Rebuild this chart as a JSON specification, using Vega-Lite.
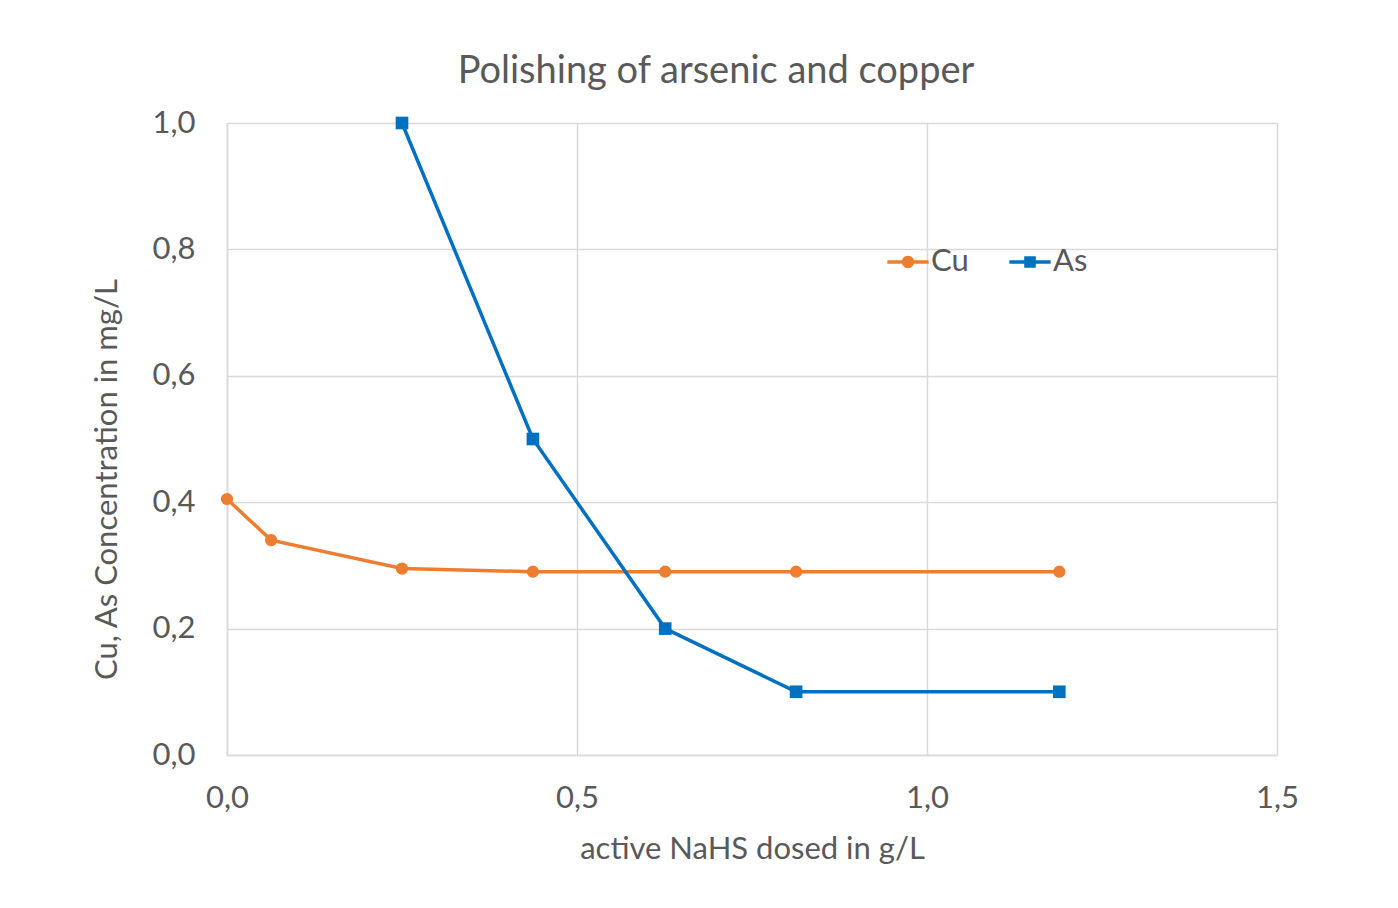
{
  "$schema": "https://vega.github.io/schema/vega-lite/v6.json",
  "autosize": "none",
  "width": 1050,
  "height": 632,
  "padding": {"left": 227, "top": 123, "right": 121, "bottom": 153},
  "background": "white",
  "config": {
    "locale": {"number": {"decimal": ",", "thousands": ".", "grouping": [3], "currency": ["", " €"]}},
    "font": "Lato",
    "view": {"stroke": null},
    "axis": {
      "labelFont": "Lato", "titleFont": "Lato",
      "labelColor": "#595959", "titleColor": "#595959",
      "labelFontSize": 31, "titleFontSize": 31, "labelFontWeight": "normal", "titleFontWeight": "normal",
      "gridColor": "#d9d9d9", "gridWidth": 1.5, "domainColor": "#d9d9d9", "domainWidth": 1.5, "ticks": false
    }
  },
  "title": {
    "text": "Polishing of arsenic and copper",
    "font": "Lato", "fontSize": 38, "fontWeight": "normal", "color": "#595959",
    "anchor": "middle", "frame": "group", "dx": -36, "offset": 16
  },
  "data": {
    "values": [
      {"dose": 0.0, "conc": 0.405, "metal": "Cu"},
      {"dose": 0.063, "conc": 0.34, "metal": "Cu"},
      {"dose": 0.25, "conc": 0.295, "metal": "Cu"},
      {"dose": 0.437, "conc": 0.29, "metal": "Cu"},
      {"dose": 0.626, "conc": 0.29, "metal": "Cu"},
      {"dose": 0.813, "conc": 0.29, "metal": "Cu"},
      {"dose": 1.189, "conc": 0.29, "metal": "Cu"},
      {"dose": 0.25, "conc": 1.0, "metal": "As"},
      {"dose": 0.437, "conc": 0.5, "metal": "As"},
      {"dose": 0.626, "conc": 0.2, "metal": "As"},
      {"dose": 0.813, "conc": 0.1, "metal": "As"},
      {"dose": 1.189, "conc": 0.1, "metal": "As"}
    ]
  },
  "encoding": {
    "x": {
      "field": "dose", "type": "quantitative",
      "scale": {"domain": [0, 1.5], "nice": false, "zero": false},
      "axis": {"values": [0, 0.5, 1.0, 1.5], "format": ".1f", "title": "active NaHS dosed in g/L", "labelPadding": 28, "titlePadding": 21, "labelFlush": false, "domain": true}
    },
    "y": {
      "field": "conc", "type": "quantitative",
      "scale": {"domain": [0, 1.0], "nice": false},
      "axis": {"values": [0, 0.2, 0.4, 0.6, 0.8, 1.0], "format": ".1f", "title": "Cu, As Concentration in mg/L", "labelPadding": 32, "labelFlush": false, "titleX": -120, "titleY": 356, "titleAlign": "center", "titleBaseline": "middle", "titleAngle": -90}
    },
    "color": {
      "field": "metal", "type": "nominal",
      "scale": {"domain": ["Cu", "As"], "range": ["#ED7D31", "#0070C0"]},
      "legend": {
        "title": null, "orient": "none", "legendX": 660, "legendY": 118, "direction": "horizontal",
        "labelFont": "Lato", "labelFontSize": 31, "labelColor": "#595959",
        "symbolSize": 1700, "columnPadding": 40, "labelOffset": 2, "symbolStrokeWidth": 0,
        "encode": {
          "symbols": {
            "update": {
              "shape": {"signal": "datum.value === 'Cu' ? 'M-1,-0.08H1V0.08H-1Z M0.3,0A0.3,0.3,0,1,1,-0.3,0A0.3,0.3,0,1,1,0.3,0Z' : 'M-1,-0.08H1V0.08H-1Z M-0.28,-0.28H0.28V0.28H-0.28Z'"},
              "fillOpacity": {"value": 1},
              "strokeWidth": {"value": 0}
            }
          }
        }
      }
    }
  },
  "layer": [
    {"mark": {"type": "line", "strokeWidth": 3.5}},
    {
      "transform": [{"filter": "datum.metal === 'Cu'"}],
      "mark": {"type": "point", "filled": true, "opacity": 1, "shape": "circle", "size": 150}
    },
    {
      "transform": [{"filter": "datum.metal === 'As'"}],
      "mark": {"type": "point", "filled": true, "opacity": 1, "shape": "square", "size": 160}
    }
  ]
}
